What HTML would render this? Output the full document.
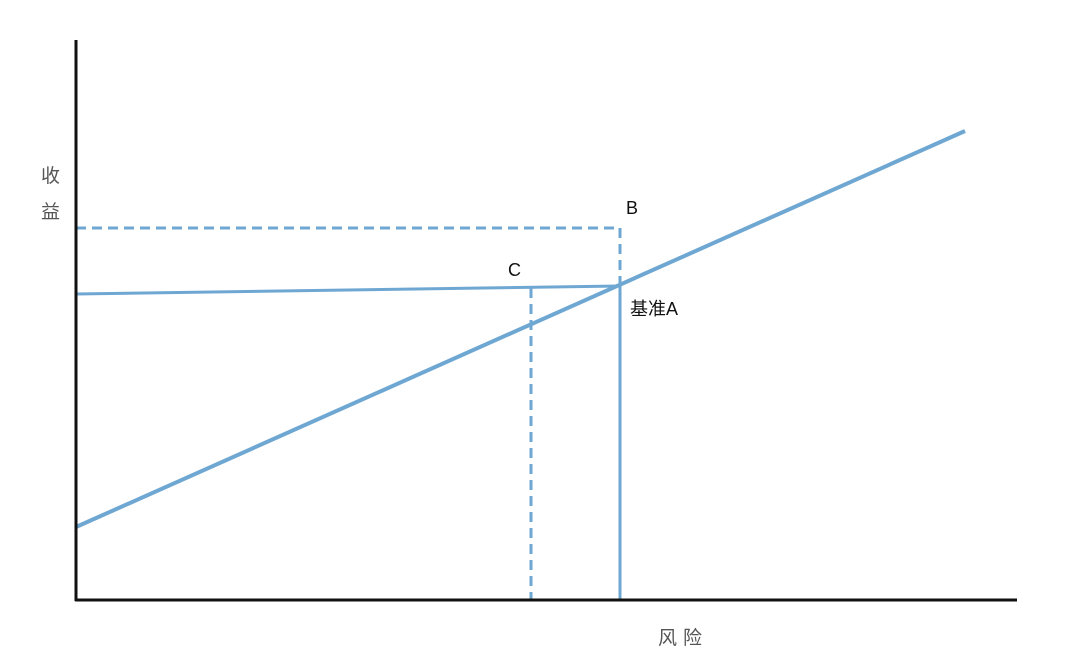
<!DOCTYPE html>
<html><head><meta charset="utf-8"><style>
html,body{margin:0;padding:0;background:#fff;}
svg{display:block}
text{font-family:"Liberation Sans","Noto Sans CJK SC",sans-serif;}
</style></head><body>
<svg width="1080" height="672" viewBox="0 0 1080 672" xmlns="http://www.w3.org/2000/svg">
<g stroke="#6fa7d3" fill="none" stroke-width="3">
<line x1="76" y1="527" x2="965" y2="131" stroke-width="4"/>
<line x1="76" y1="294" x2="620" y2="286"/>
<line x1="620" y1="286" x2="620" y2="600"/>
<polyline points="76,228 620,228 620,286" stroke-dasharray="10,6"/>
<line x1="531" y1="288" x2="531" y2="600" stroke-dasharray="10,6"/>
</g>
<g stroke="#111" stroke-width="3">
<line x1="76" y1="40" x2="76" y2="601"/>
<line x1="75" y1="600" x2="1017" y2="600"/>
</g>
<g font-size="19" fill="#555">
<text x="41" y="182">收</text>
<text x="41" y="218">益</text>
<text x="658" y="644" letter-spacing="6">风险</text>
</g>
<g font-size="18" fill="#111">
<text x="626" y="214">B</text>
<text x="508" y="276">C</text>
<text x="630" y="315">基准A</text>
</g>
</svg>
</body></html>
